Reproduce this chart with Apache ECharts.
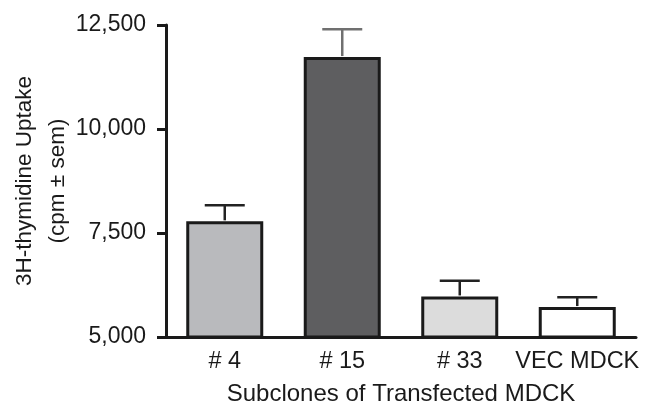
<!DOCTYPE html>
<html>
<head>
<meta charset="utf-8">
<script src="https://cdn.jsdelivr.net/npm/echarts@6/dist/echarts.min.js"></script>
<style>
  html, body { margin: 0; padding: 0; background: #fff; }
  #chart { width: 650px; height: 404px; }
</style>
</head>
<body>
<div id="chart"></div>
<script>
// ---- data ----
var categories = ['# 4', '# 15', '# 33', 'VEC MDCK'];
var means = [7780, 11730, 5975, 5720];
var sems = [390, 670, 375, 235];
var yTicks = [5000, 7500, 10000, 12500];
var barColors = ['#b9babd', '#5e5e60', '#dcdcdc', '#ffffff'];
var errColors = ['#222222', '#707070', '#222222', '#222222'];
var yTitle = '3H-thymidine Uptake\n(cpm \u00b1 sem)';
var xTitle = 'Subclones of Transfected MDCK';

var FONT = '"Liberation Sans", Arial, Helvetica, sans-serif';
var chart = echarts.init(document.getElementById('chart'), null, { renderer: 'canvas' });

var barData = means.map(function (v, i) {
  return { value: v, itemStyle: { color: barColors[i] } };
});
var errData = means.map(function (v, i) { return [i, v, v + sems[i]]; });

chart.setOption({
  animation: false,
  backgroundColor: '#ffffff',
  grid: { left: 166, right: 14, top: 25, bottom: 67, containLabel: false, outerBoundsMode: 'none' },
  xAxis: {
    type: 'category',
    data: categories,
    name: xTitle,
    nameLocation: 'middle',
    nameGap: 45,
    nameMoveOverlap: false,
    nameTextStyle: { fontFamily: FONT, fontSize: 24, color: '#1a1a1a' },
    axisLine: { onZero: false, lineStyle: { color: '#1a1a1a', width: 3 } },
    axisTick: { show: false },
    axisLabel: { interval: 0, fontFamily: FONT, fontSize: 23.5, color: '#1a1a1a', margin: 13, hideOverlap: false },
    splitLine: { show: false }
  },
  yAxis: {
    type: 'value',
    min: yTicks[0],
    max: yTicks[yTicks.length - 1],
    interval: yTicks[1] - yTicks[0],
    name: yTitle,
    nameLocation: 'middle',
    nameGap: 92,
    nameRotate: 90,
    nameMoveOverlap: false,
    nameTextStyle: { fontFamily: FONT, fontSize: 22.5, color: '#1a1a1a', lineHeight: 33, align: 'center' },
    axisLine: { show: true, lineStyle: { color: '#1a1a1a', width: 3 } },
    axisTick: { show: true, length: 9, lineStyle: { color: '#1a1a1a', width: 3 } },
    axisLabel: {
      fontFamily: FONT, fontSize: 23, color: '#1a1a1a', margin: 20,
      formatter: function (v) { return v.toLocaleString('en-US'); }
    },
    splitLine: { show: false }
  },
  series: [
    {
      type: 'bar',
      data: barData,
      barWidth: 77,
      itemStyle: { borderColor: '#1a1a1a', borderWidth: 3 },
      z: 2
    },
    {
      type: 'custom',
      data: errData,
      z: 3,
      renderItem: function (params, api) {
        var i = api.value(0);
        var p0 = api.coord([i, api.value(1)]);
        var p1 = api.coord([i, api.value(2)]);
        var half = 20;
        var col = errColors[i];
        return {
          type: 'group',
          children: [
            { type: 'line', shape: { x1: p0[0], y1: p0[1] - 1, x2: p1[0], y2: p1[1] },
              style: { stroke: col, lineWidth: 2.5 } },
            { type: 'line', shape: { x1: p1[0] - half, y1: p1[1], x2: p1[0] + half, y2: p1[1] },
              style: { stroke: col, lineWidth: 2.5 } }
          ]
        };
      }
    }
  ]
});
</script>
</body>
</html>
